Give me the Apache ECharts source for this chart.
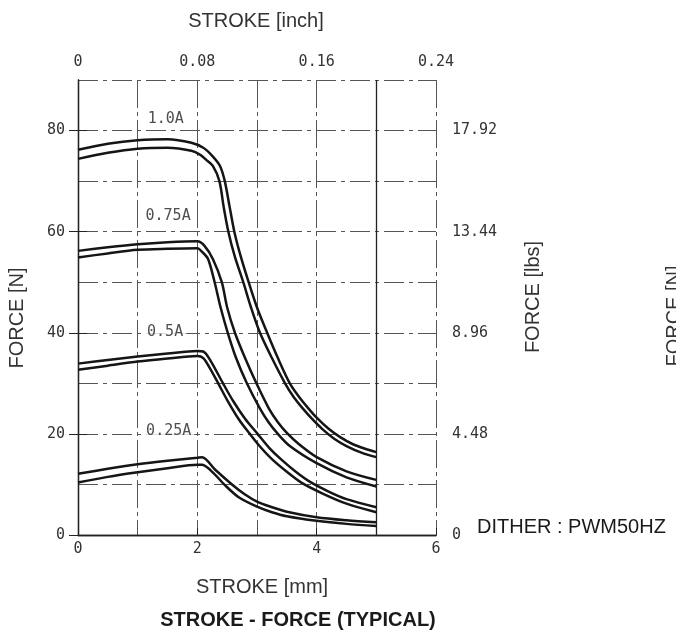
<!DOCTYPE html>
<html>
<head>
<meta charset="utf-8">
<script src="https://cdn.jsdelivr.net/npm/echarts@6/dist/echarts.min.js"></script>
<style>
html,body{margin:0;padding:0;background:#fff;}
#chart{width:676px;height:633px;}
</style>
</head>
<body>
<div id="chart"></div>
<script>
// ---- Data (stroke in mm, force in N) ----
const curve10A_outer = [[0,76.2],[0.5,77.4],[1,78.1],[1.5,78.3],[1.9,77.6],[2.1,76.6],[2.25,75],[2.38,73],[2.46,70],[2.54,65],[2.62,60],[2.73,55],[2.86,50],[3.0,45],[3.17,40],[3.35,35],[3.55,30],[3.7,27.4],[3.85,25.2],[4.0,23.2],[4.2,21.0],[4.4,19.3],[4.6,18.0],[4.8,17.1],[5,16.4]];
const curve10A_inner = [[0,74.4],[0.5,75.6],[1,76.4],[1.5,76.6],[1.9,76.0],[2.05,75.2],[2.15,74.2],[2.26,73],[2.37,70],[2.44,65],[2.52,60],[2.63,55],[2.77,50],[2.9,45],[3.05,40],[3.25,35],[3.47,30],[3.62,27.2],[3.77,25.0],[3.92,23.0],[4.1,20.9],[4.3,19.0],[4.5,17.6],[4.75,16.3],[5,15.4]];
const curve075A_outer = [[0,56.2],[0.5,56.9],[1,57.5],[1.5,57.9],[2,58.1],[2.12,57.2],[2.26,54.6],[2.41,50],[2.5,45],[2.63,40],[2.8,35],[2.99,30],[3.2,25],[3.35,22.3],[3.5,20.2],[3.7,18.0],[4.0,15.4],[4.5,12.6],[5,10.9]];
const curve075A_inner = [[0,54.9],[0.5,55.7],[1,56.4],[1.5,56.6],[2,56.7],[2.08,56.0],[2.18,54.6],[2.29,50],[2.39,45],[2.51,40],[2.65,35],[2.83,30],[3.05,25],[3.2,22.2],[3.35,20],[3.55,17.6],[4.0,14.2],[4.5,11.4],[5,9.6]];
const curve05A_outer = [[0,33.9],[0.5,34.6],[1,35.3],[1.5,35.9],[2,36.4],[2.1,36.3],[2.22,34.5],[2.43,30],[2.6,26.5],[2.8,23],[3.01,20],[3.2,17.3],[3.4,15],[3.65,12.5],[3.89,10.5],[4.2,8.6],[4.5,7.1],[5,5.5]];
const curve05A_inner = [[0,32.7],[0.5,33.5],[1,34.3],[1.5,34.9],[2,35.4],[2.1,35.0],[2.2,33.2],[2.35,30],[2.5,26.7],[2.7,22.8],[2.88,20],[3.05,17.5],[3.25,15],[3.5,12.5],[3.75,10.3],[4.1,8.2],[4.5,6.2],[5,4.5]];
const curve025A_outer = [[0,12.1],[0.5,13.1],[1,14.0],[1.5,14.7],[2,15.3],[2.08,15.4],[2.3,12.9],[2.58,10],[2.8,8],[3,6.6],[3.25,5.5],[3.5,4.6],[4,3.5],[4.5,2.9],[5,2.5]];
const curve025A_inner = [[0,10.4],[0.5,11.5],[1,12.4],[1.5,13.2],[2,13.9],[2.08,13.9],[2.3,11.9],[2.45,10],[2.7,7.4],[3,5.6],[3.25,4.5],[3.5,3.7],[4,2.8],[4.5,2.2],[5,1.8]];

// current labels and where they sit (mm, N)
const currentNames = ['1.0A','0.75A','0.5A','0.25A'];
const currentAnchors = [[1.47,82.3],[1.51,63.1],[1.46,40.1],[1.52,20.5]];

// tick labels
const mmTicks = [0,2,4,6];
const inchTicks = ['0','0.08','0.16','0.24'];
const lbsTicks = ['0','4.48','8.96','13.44','17.92'];
const nTicks = [0,20,40,60,80];

const chart = echarts.init(document.getElementById('chart'), null, {renderer:'canvas'});

const mono = "'DejaVu Sans Mono', monospace";
const gridDash = [20,5,4,5];

const curves = [curve10A_outer, curve10A_inner, curve075A_outer, curve075A_inner,
                curve05A_outer, curve05A_inner, curve025A_outer, curve025A_inner];

const series = curves.map((d,i)=>({
  type:'line', data:d, xAxisIndex:0, yAxisIndex:0,
  symbol:'none', showSymbol:false, smooth:0.3,
  lineStyle:{color:'#151515', width:2.5}, z:5, silent:true,
  markLine: i===0 ? {silent:true, symbol:'none', label:{show:false},
     lineStyle:{color:'#222', width:1.3, type:'solid'}, data:[{xAxis:5}]} : undefined
}));

series.push({
  type:'scatter', xAxisIndex:0, yAxisIndex:0, symbolSize:1, z:6,
  itemStyle:{color:'rgba(0,0,0,0)'},
  data: currentNames.map((n,i)=>({name:n, value:currentAnchors[i]})),
  label:{show:true, position:'inside', formatter:'{b}', fontFamily:mono, fontSize:15,
         color:'#222', backgroundColor:'#fff', padding:[1,3]}
});

const option = {
  animation:false,
  backgroundColor:'#fff',
  grid:{left:78, top:80, right:240, bottom:98, containLabel:false, outerBoundsMode:'none'},
  xAxis:[
    {type:'value', position:'bottom', min:0, max:6, interval:1,
     axisLine:{show:true, lineStyle:{color:'#222', width:1.3}},
     axisTick:{show:false},
     axisLabel:{margin:7, fontFamily:mono, fontSize:15, color:'#333',
       formatter:v=> mmTicks.indexOf(v)>=0 ? String(v) : ''},
     splitLine:{show:true, lineStyle:{color:'#555', width:1, type:[28,4,4,4]}}},
    {type:'value', position:'top', min:0, max:0.24, interval:0.08,
     axisLine:{show:true, lineStyle:{color:'#222', width:1.3}},
     axisTick:{show:true, inside:false, length:7, lineStyle:{color:'#222'}},
     axisLabel:{margin:10, fontFamily:mono, fontSize:15, color:'#333',
       formatter:v=> inchTicks[Math.round(v/0.08)] || ''},
     splitLine:{show:false}}
  ],
  yAxis:[
    {type:'value', position:'left', min:0, max:90, interval:20,
     axisLine:{show:true, lineStyle:{color:'#222', width:1.3}},
     axisTick:{show:true, inside:false, length:9, lineStyle:{color:'#222'}},
     axisLabel:{margin:13, fontFamily:mono, fontSize:15, color:'#333', showMaxLabel:false,
       formatter:v=> nTicks.indexOf(v)>=0 ? String(v) : ''},
     splitLine:{show:false}},
    {type:'value', position:'right', min:0, max:20.16, interval:4.48,
     axisLine:{show:true, lineStyle:{color:'#222', width:1.3}},
     axisTick:{show:true, inside:false, length:9, lineStyle:{color:'#222'}},
     axisLabel:{margin:16, fontFamily:mono, fontSize:15, color:'#333', showMaxLabel:false,
       formatter:v=> lbsTicks[Math.round(v/4.48)] || ''},
     splitLine:{show:false}},
    {type:'value', position:'left', min:0, max:90, interval:10,
     axisLine:{show:false}, axisTick:{show:false}, axisLabel:{show:false},
     splitLine:{show:true, lineStyle:{color:'#555', width:1, type:gridDash}}}
  ],
  graphic:[
    {type:'text', x:256, y:21, style:{text:'STROKE [inch]', font:"20px 'Liberation Sans', sans-serif", fill:'#333', align:'center', verticalAlign:'middle'}},
    {type:'text', x:17, y:318, rotation:Math.PI/2, style:{text:'FORCE [N]', font:"20px 'Liberation Sans', sans-serif", fill:'#333', align:'center', verticalAlign:'middle'}},
    {type:'text', x:533, y:297, rotation:Math.PI/2, style:{text:'FORCE [lbs]', font:"20px 'Liberation Sans', sans-serif", fill:'#333', align:'center', verticalAlign:'middle'}},
    {type:'text', x:674, y:316, rotation:Math.PI/2, style:{text:'FORCE [N]', font:"20px 'Liberation Sans', sans-serif", fill:'#333', align:'center', verticalAlign:'middle'}},
    {type:'text', x:477, y:527, style:{text:'DITHER : PWM50HZ', font:"20px 'Liberation Sans', sans-serif", fill:'#1a1a1a', align:'left', verticalAlign:'middle'}},
    {type:'text', x:262, y:587, style:{text:'STROKE [mm]', font:"20px 'Liberation Sans', sans-serif", fill:'#333', align:'center', verticalAlign:'middle'}},
    {type:'text', x:298, y:620, style:{text:'STROKE - FORCE (TYPICAL)', font:"bold 20px 'Liberation Sans', sans-serif", fill:'#1a1a1a', align:'center', verticalAlign:'middle'}}
  ],
  series: series
};
chart.setOption(option);
</script>
</body>
</html>
